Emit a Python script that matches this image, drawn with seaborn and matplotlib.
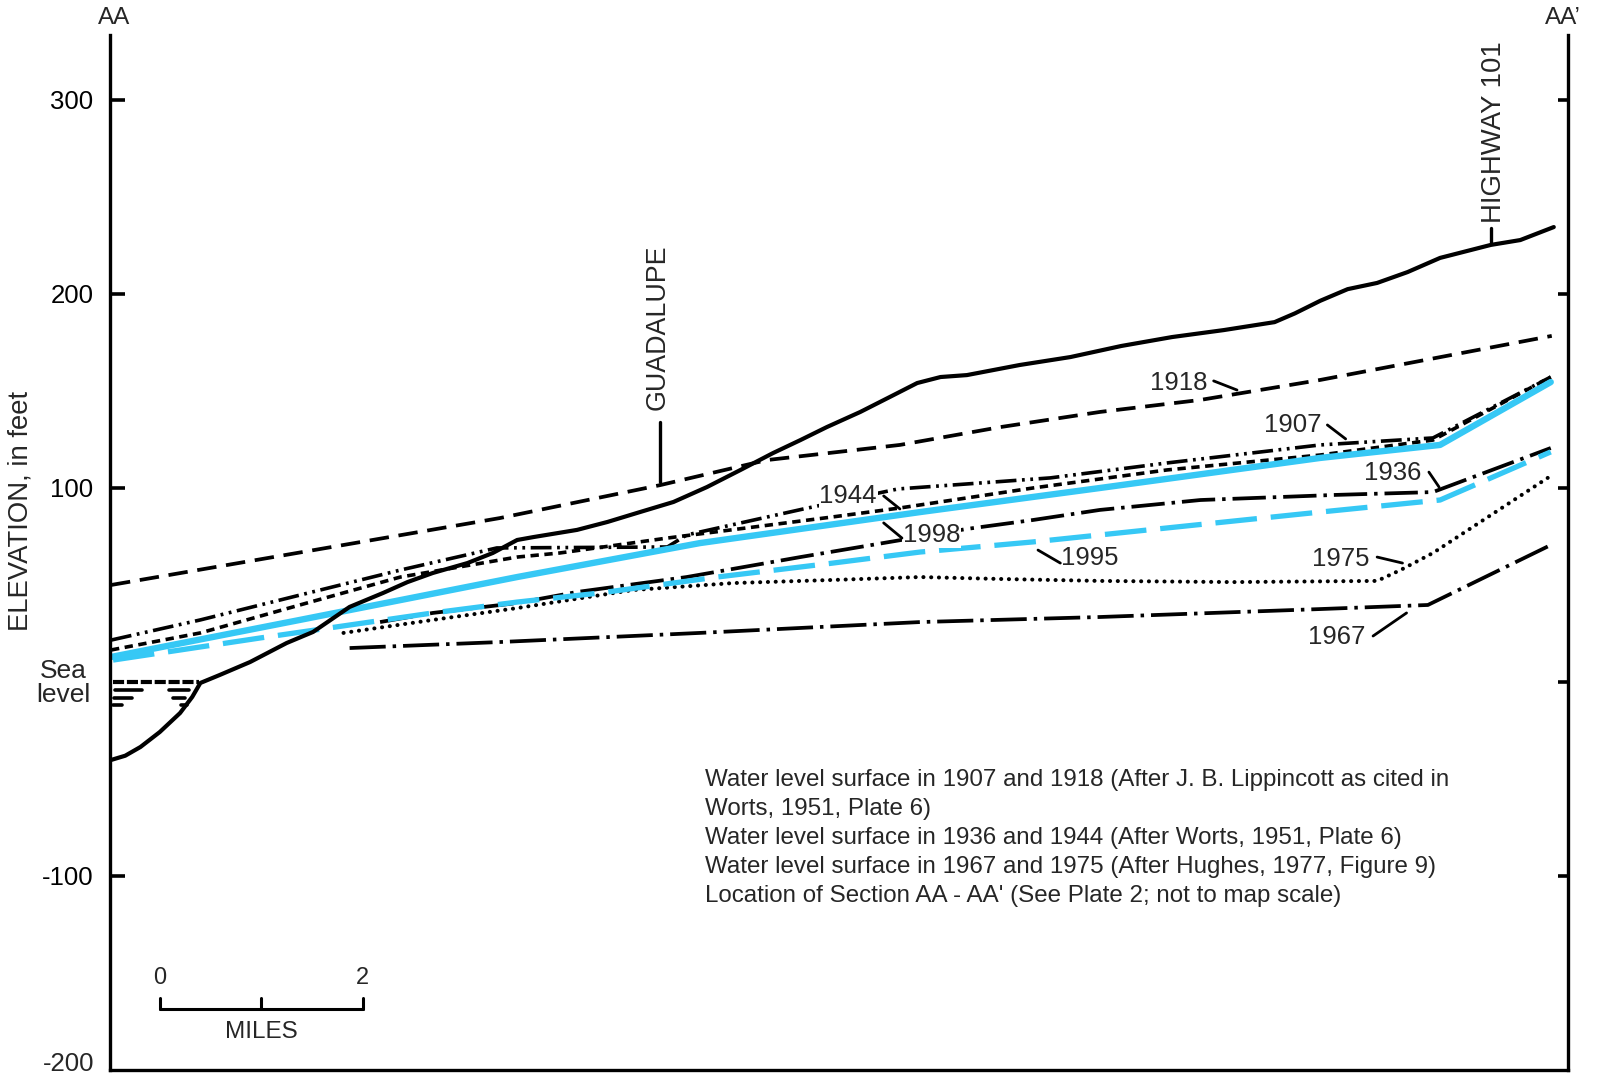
import matplotlib
matplotlib.use("Agg")
import pandas as pd
import matplotlib.pyplot as plt
import seaborn as sns

# Section AA - AA': distance from AA in miles, elevation in feet
ground_mi = [0.01, 0.15, 0.30, 0.49, 0.69, 0.81, 0.89, 1.08, 1.38, 1.74, 2.00, 2.36, 2.69, 2.93,
             3.18, 3.52, 3.77, 4.01, 4.17, 4.60, 4.90, 5.22, 5.55, 5.88, 6.21, 6.53, 6.80, 7.06,
             7.39, 7.68, 7.95, 8.18, 8.44, 8.70, 8.96, 9.46, 9.96, 10.46, 10.97, 11.47, 11.67,
             11.92, 12.19, 12.48, 12.78, 13.10, 13.60, 13.89, 14.22]
ground_ft = [-40.2, -38.0, -33.5, -25.8, -16.0, -7.7, -0.5, 3.6, 10.3, 20.1, 25.8, 38.7, 45.9, 51.5,
             56.2, 61.3, 66.5, 73.2, 74.7, 78.4, 82.5, 87.6, 92.8, 100.5, 109.3, 118.0, 124.7, 131.4,
             139.2, 146.9, 154.1, 157.2, 158.2, 160.8, 163.4, 167.5, 173.2, 177.8, 181.4, 185.5, 190.0,
             196.5, 202.5, 205.7, 211.3, 218.6, 225.3, 227.8, 234.5]

wl1918_mi = [0.01, 3.84, 5.42, 6.47, 7.78, 8.77, 9.75, 10.74, 11.92, 14.20]
wl1918_ft = [50.0, 84.5, 101.5, 114.4, 122.2, 131.4, 139.2, 145.4, 155.7, 178.4]

wl1907_mi = [0.01, 0.89, 1.87, 2.86, 3.81, 5.49, 5.68, 6.83, 7.76, 9.26, 10.41, 11.92, 13.03, 14.19]
wl1907_ft = [21.6, 32.0, 44.8, 57.7, 69.1, 69.6, 75.8, 89.2, 99.5, 105.2, 112.9, 122.2, 125.8, 157.2]

wl1944_mi = [0.01, 0.89, 1.87, 2.86, 4.01, 4.43, 5.49, 7.12, 7.78, 9.09, 10.41, 11.92, 13.03, 14.19]
wl1944_ft = [16.5, 25.3, 39.7, 54.1, 64.4, 66.5, 74.2, 85.1, 89.7, 100.0, 109.3, 117.0, 124.7, 157.2]

wl1998_mi = [0.01, 1.87, 4.01, 5.81, 7.98, 9.75, 11.92, 13.10, 14.19]
wl1998_ft = [12.9, 32.0, 54.1, 71.6, 87.6, 100.0, 115.5, 122.2, 154.6]

wl1995_mi = [0.03, 1.48, 3.18, 4.01, 4.83, 5.98, 7.12, 7.98, 9.09, 10.41, 11.92, 13.10, 14.19]
wl1995_ft = [11.3, 22.7, 35.6, 41.2, 45.9, 54.1, 61.3, 67.0, 72.2, 79.4, 87.6, 93.8, 118.6]

wl1936_mi = [2.66, 3.18, 4.01, 4.60, 5.68, 6.80, 7.68, 8.44, 9.09, 9.75, 10.74, 12.05, 13.03, 14.19]
wl1936_ft = [30.9, 35.6, 40.7, 46.4, 54.1, 64.4, 72.2, 78.9, 83.5, 88.7, 93.8, 96.4, 97.9, 120.6]

wl1975_mi = [2.30, 3.18, 4.01, 5.15, 6.14, 7.12, 7.98, 8.77, 9.75, 11.06, 12.48, 12.71, 13.03, 14.16]
wl1975_ft = [25.3, 32.0, 38.1, 47.4, 51.0, 52.6, 54.1, 53.1, 52.1, 51.5, 52.1, 57.7, 66.5, 105.2]

wl1967_mi = [2.36, 3.84, 5.81, 7.98, 9.75, 11.92, 12.98, 14.19]
wl1967_ft = [17.5, 20.6, 25.3, 30.9, 33.5, 37.6, 39.7, 70.6]

# sea surface at the AA end
sea_mi = [0.03, 0.88]
sea_ft = [0.0, 0.0]

notes = ["Water level surface in 1907 and 1918 (After J. B. Lippincott as cited in",
         "Worts, 1951, Plate 6)",
         "Water level surface in 1936 and 1944 (After Worts, 1951, Plate 6)",
         "Water level surface in 1967 and 1975 (After Hughes, 1977, Figure 9)",
         "Location of Section AA - AA' (See Plate 2; not to map scale)"]

sns.set_theme(style="white")
plt.rcParams["font.family"] = ["Liberation Sans", "DejaVu Sans"]
plt.rcParams["lines.scale_dashes"] = False

W, H = 1598, 1076
fig = plt.figure(figsize=(W / 100, H / 100), dpi=100)
ax = fig.add_axes([110 / W, 6 / H, 1458 / W, 1035 / H])

BLUE = "#36c8f5"


def draw(x, y, **kw):
    d = pd.DataFrame({"mi": x, "ft": y})
    sns.lineplot(data=d, x="mi", y="ft", ax=ax, sort=False, estimator=None, **kw)


draw(wl1918_mi, wl1918_ft, color="black", linewidth=2.7, linestyle=(0, (14, 7)))
draw(wl1907_mi, wl1907_ft, color="black", linewidth=2.6, linestyle=(0, (15, 4, 2, 4, 2, 4)))
draw(wl1944_mi, wl1944_ft, color="black", linewidth=2.6, linestyle=(0, (6, 4)))
draw(wl1936_mi, wl1936_ft, color="black", linewidth=2.7, linestyle=(0, (24, 5, 2.5, 5)))
draw(wl1975_mi, wl1975_ft, color="black", linewidth=2.9, linestyle=(0, (0.1, 5.5)),
     dash_capstyle="round")
draw(wl1967_mi, wl1967_ft, color="black", linewidth=2.7, linestyle=(0, (26, 5, 2.5, 5)))
draw(wl1995_mi, wl1995_ft, color=BLUE, linewidth=3.8, linestyle=(0, (30, 10)))
draw(wl1998_mi, wl1998_ft, color=BLUE, linewidth=4.6)
draw(ground_mi, ground_ft, color="black", linewidth=3.0)
draw(sea_mi, sea_ft, color="black", linewidth=3.0, linestyle=(0, (8, 2)))

# rough hatching below the sea surface
for hx, hy in [([0.05, 0.32], -4.0), ([0.58, 0.78], -4.0), ([0.04, 0.22], -8.0),
               ([0.62, 0.74], -8.0), ([0.03, 0.12], -12.0), ([0.70, 0.76], -12.0)]:
    ax.plot(hx, [hy, hy], color="black", lw=2.6)

ax.set_xlim(0, 14.36)
ax.set_ylim(-200, 333.5)
ax.set_xticks([])
ax.set_xlabel("")
ax.set_ylabel("")
for side in ["left", "right", "bottom"]:
    ax.spines[side].set_visible(True)
    ax.spines[side].set_color("black")
    ax.spines[side].set_linewidth(2.4)
ax.spines["top"].set_visible(False)

ax.set_yticks([300, 200, 100, -100])
ax.set_yticklabels(["300", "200", "100", "-100"], fontsize=18.5)
ax.tick_params(axis="y", left=True, direction="in", length=11, width=2.6, pad=12,
               color="black", labelcolor="black")

ax2 = ax.twinx()
ax2.set_ylim(ax.get_ylim())
ax2.set_yticks([300, 200, 100, 0, -100])
ax2.set_yticklabels([])
ax2.tick_params(axis="y", right=True, direction="in", length=7, width=2.6, color="black")
for s in ax2.spines.values():
    s.set_visible(False)
ax2.grid(False)

# year labels with leaders
labels = [("1918", 10.53, 154.1, (10.87, 11.10), (155.2, 150.5)),
          ("1907", 11.65, 132.5, (11.99, 12.17), (132.5, 125.3)),
          ("1936", 12.63, 107.7, (12.99, 13.09), (108.2, 100.5)),
          ("1975", 12.12, 63.4, (12.48, 12.73), (64.4, 61.3)),
          ("1967", 12.08, 23.2, (12.44, 12.77), (23.7, 35.6)),
          ("1944", 7.27, 95.9, (7.62, 7.78), (95.9, 89.2)),
          ("1998", 8.09, 75.8, (7.62, 7.80), (82.0, 74.2)),
          ("1995", 9.65, 63.9, (9.14, 9.36), (68.0, 61.3))]
for txt, tx, ty, lx, ly in labels:
    ax.text(tx, ty, txt, fontsize=18.5, ha="center", va="center", zorder=6,
            bbox=dict(facecolor="white", edgecolor="none", pad=0.5))
    ax.plot(lx, ly, color="black", lw=2.0, zorder=6)

# place names
ax.text(5.39, 183, "GUADALUPE", rotation=90, fontsize=19.3, ha="center", va="center")
ax.plot([5.42, 5.42], [134, 103], color="black", lw=2.4)
ax.text(13.63, 283.5, "HIGHWAY 101", rotation=90, fontsize=19.8, ha="center", va="center")
ax.plot([13.60, 13.60], [234, 227], color="black", lw=2.4)

# scale bar
bar_x0 = 0.49
bar_miles = [0, 1, 2]
bar_y, tick_y = -168.6, -162.9
ax.plot([bar_x0 + bar_miles[0], bar_x0 + bar_miles[-1]], [bar_y, bar_y], color="black", lw=2.2)
for m in bar_miles:
    ax.plot([bar_x0 + m, bar_x0 + m], [bar_y, tick_y], color="black", lw=2.2)
ax.text(bar_x0, -152.6, "0", fontsize=17, ha="center", va="center")
ax.text(bar_x0 + 2, -152.6, "2", fontsize=17, ha="center", va="center")
ax.text(bar_x0 + 1, -180.4, "MILES", fontsize=17.5, ha="center", va="center")

# figure-level texts
fig.text(114 / W, 1 - 18 / H, "AA", fontsize=17.5, ha="center", va="center")
fig.text(1563 / W, 1 - 18 / H, "AA\u2019", fontsize=17.5, ha="center", va="center")
fig.text(21 / W, 1 - 511 / H, "ELEVATION, in feet", rotation=90, fontsize=19.8,
         ha="center", va="center")
fig.text(63 / W, 1 - 683 / H, "Sea\nlevel", fontsize=19, ha="center", va="center",
         linespacing=1.05)
fig.text(94 / W, 1 - 1064 / H, "-200", fontsize=18.5, ha="right", va="center")

for i, line in enumerate(notes):
    fig.text(705 / W, 1 - (780 + 29 * i) / H, line, fontsize=17.4, ha="left", va="center")

fig.savefig("out.png", dpi=100)
